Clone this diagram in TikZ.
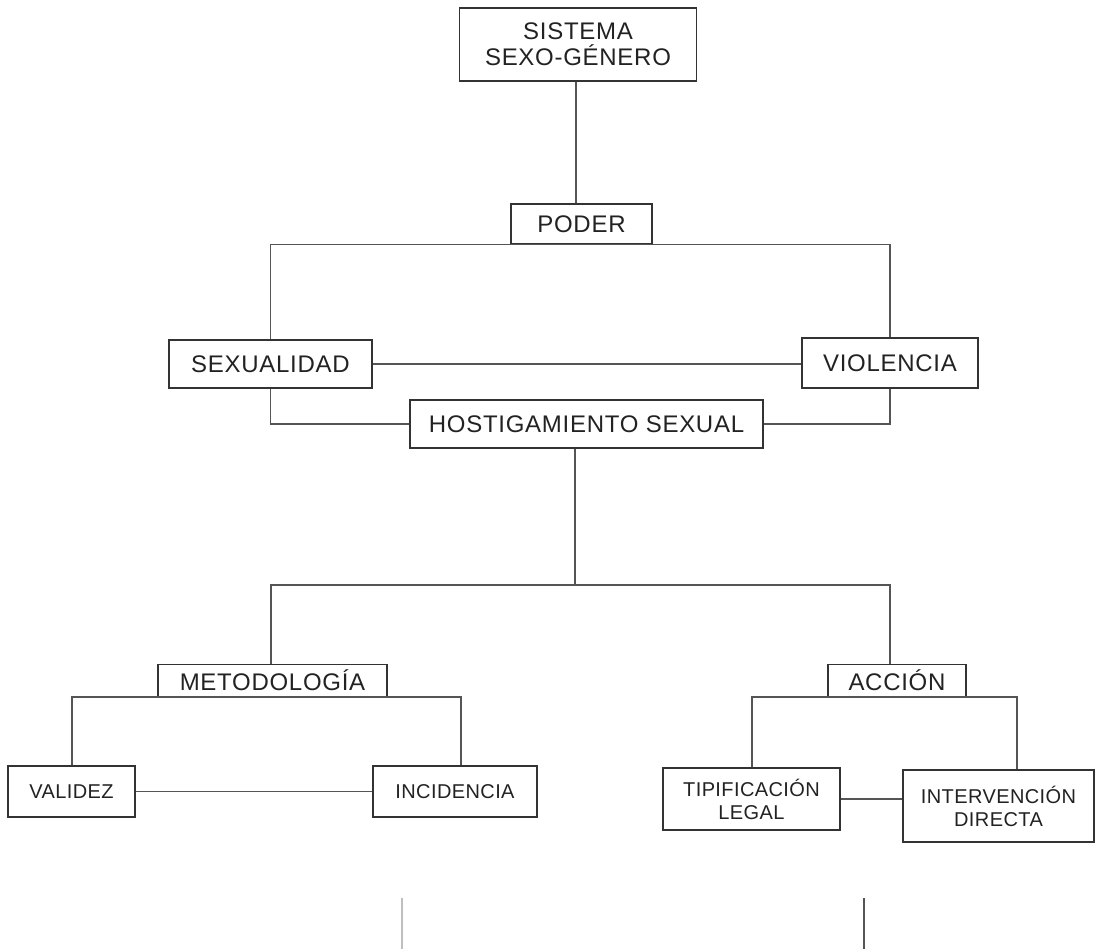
\documentclass[tikz,border=0pt]{standalone}
\usepackage{fontspec}
\setmainfont{Liberation Sans}
\newfontfamily\bigspaced[LetterSpace=3]{Liberation Sans}
\newfontfamily\smallspaced[LetterSpace=2]{Liberation Sans}
\definecolor{ink}{HTML}{222222}
\definecolor{edge}{HTML}{333333}
\definecolor{conn}{HTML}{555555}
\tikzset{
  box/.style={draw=edge, line width=1.1pt, rectangle, inner sep=0pt, align=center, text=ink,
    font=\bigspaced\fontsize{24}{26}\selectfont},
  smallbox/.style={box, font=\smallspaced\fontsize{20}{23}\selectfont},
  link/.style={draw=conn, line width=1.1pt},
}
\begin{document}
\begin{tikzpicture}[x=1pt,y=-1pt]
\useasboundingbox (0,0) rectangle (1096,949);
% nodes
\node[box, minimum width=237, minimum height=73] (sis) at (578,44.5) {SISTEMA\\SEXO-GÉNERO};
\node[box, minimum width=141, minimum height=40] (pod) at (581.5,224) {PODER};
\node[box, minimum width=203, minimum height=48] (sex) at (270.5,364) {SEXUALIDAD};
\node[box, minimum width=176, minimum height=50] (vio) at (890,363) {VIOLENCIA};
\node[box, minimum width=353, minimum height=48] (hos) at (586.5,424) {HOSTIGAMIENTO SEXUAL};
\node[box, minimum width=229, minimum height=32, anchor=south] (met) at (272.5,697) {METODOLOGÍA};
\node[box, minimum width=138, minimum height=32, anchor=south] (acc) at (897,697) {ACCIÓN};
\node[smallbox, minimum width=127, minimum height=51] (val) at (71.5,791.5) {VALIDEZ};
\node[smallbox, minimum width=164, minimum height=51] (inc) at (455,791.5) {INCIDENCIA};
\node[smallbox, minimum width=177, minimum height=62] (tip) at (751.5,799) {TIPIFICACIÓN\\LEGAL};
\node[smallbox, minimum width=191, minimum height=72] (int) at (998.5,806) {INTERVENCIÓN\\DIRECTA};
% junction coordinates
\coordinate (j1) at (576,0);
\coordinate (j2) at (575,585);
\coordinate (j2l) at (271,585);
\coordinate (j2r) at (890,585);
\coordinate (j3l) at (72,0);
\coordinate (j3r) at (461,0);
\coordinate (j4l) at (752,0);
\coordinate (j4r) at (1017,0);
\coordinate (b1a) at (402,898);
\coordinate (b1b) at (402,949);
\coordinate (b2a) at (864,898);
\coordinate (b2b) at (864,949);
% connectors
\draw[link] (j1 |- sis.south) -- (j1 |- pod.north);
\draw[link] (sex.north) |- (pod.south) -| (vio.north);
\draw[link] (sex.east) -- (sex.east -| vio.west);
\draw[link] (sex.south) |- (hos.west);
\draw[link] (vio.south) |- (hos.east);
\draw[link] (j2 |- hos.south) -- (j2);
\draw[link] (j2l |- met.north) -- (j2l) -- (j2r) -- (j2r |- acc.north);
\draw[link] (j3l |- val.north) -- (j3l |- met.south) -- (j3r |- met.south) -- (j3r |- inc.north);
\draw[link] (val.east) -- (val.east -| inc.west);
\draw[link] (j4l |- tip.north) -- (j4l |- acc.south) -- (j4r |- acc.south) -- (j4r |- int.north);
\draw[link] (tip.east) -- (tip.east -| int.west);
\draw[link, draw=gray!50] (b1a) -- (b1b);
\draw[link] (b2a) -- (b2b);
\end{tikzpicture}
\end{document}
